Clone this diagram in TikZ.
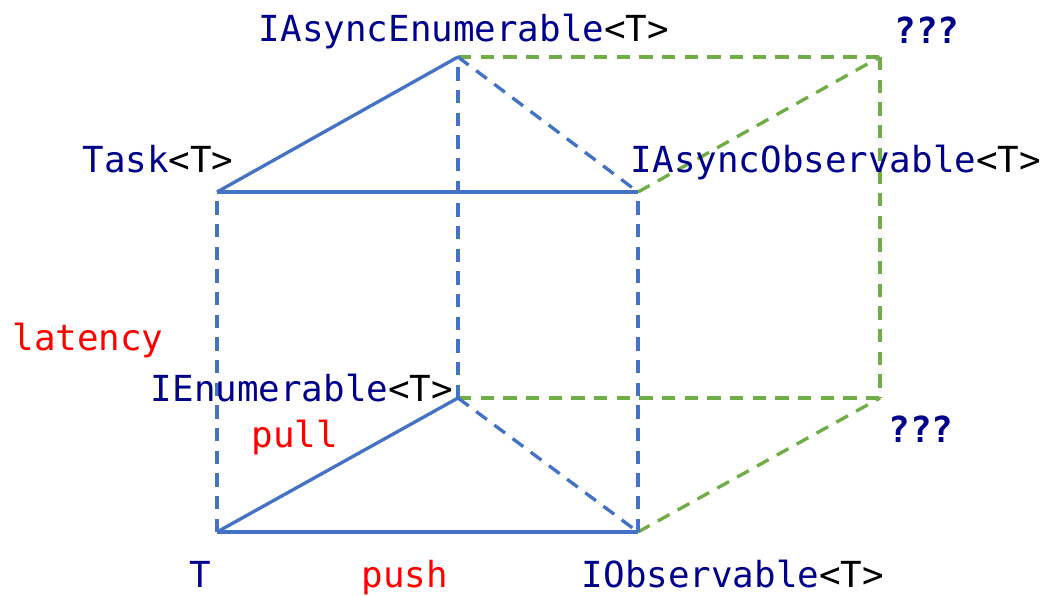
\documentclass[tikz,border=0pt]{standalone}
\usepackage{fontspec}
\setmonofont{DejaVu Sans Mono}
\usepackage{xcolor}
\usetikzlibrary{positioning}
\definecolor{edgeblue}{HTML}{4472C4}
\definecolor{edgegreen}{HTML}{70AD47}
\definecolor{typenavy}{HTML}{00008B}
\newcommand{\gentype}[1]{\textcolor{typenavy}{#1}\textcolor{black}{<T>}}

\begin{document}
\begin{tikzpicture}[x=0.75pt, y=0.75pt,
    lbl/.style={font=\fontsize{26.9}{30}\ttfamily, inner sep=0pt, anchor=base},
    axis/.style={lbl, text=red},
    unknown/.style={lbl, font=\fontsize{26.9}{30}\ttfamily\bfseries, text=typenavy},
    solidedge/.style={draw=edgeblue, line width=2.5pt},
    blueedge/.style={draw=edgeblue, line width=2.5pt, dash pattern=on 10pt off 7pt},
    greenedge/.style={draw=edgegreen, line width=2.5pt, dash pattern=on 10pt off 7pt}]
    \useasboundingbox (0,0) rectangle (1047,596);

    % corners of the cube
    \coordinate (t)    at (217,64);
    \coordinate (obs)  at (638,64);
    \coordinate (enm)  at (458,198);
    \coordinate (qb)   at (880,198);
    \coordinate (task) at (217,404);
    \coordinate (aobs) at (638,404);
    \coordinate (aenm) at (458,539);
    \coordinate (qt)   at (880,539);

    % green dashed edges (unknown corner)
    \draw[greenedge] (aenm) -- (qt);
    \draw[greenedge] (qt) -- (qb);
    \draw[greenedge] (aobs) -- (qt);
    \draw[greenedge] (enm) -- (qb);
    \draw[greenedge] (obs) -- (qb);

    % blue dashed edges
    \draw[blueedge] (t) -- (task);
    \draw[blueedge] (obs) -- (aobs);
    \draw[blueedge] (enm) -- (aenm);
    \draw[blueedge] (enm) -- (obs);
    \draw[blueedge] (aenm) -- (aobs);

    % blue solid edges
    \draw[solidedge] (t) -- (obs);
    \draw[solidedge] (t) -- (enm);
    \draw[solidedge] (task) -- (aobs);
    \draw[solidedge] (task) -- (aenm);

    % type names
    \node[lbl] (aenmlbl) at (464,554) {\gentype{IAsyncEnumerable}};
    \node[lbl] (tasklbl) at (158,423) {\gentype{Task}};
    \node[lbl] (aobslbl) at (836,423) {\gentype{IAsyncObservable}};
    \node[lbl] (enmlbl)  at (302,194) {\gentype{IEnumerable}};
    \node[lbl, text=typenavy] (tlbl) at (200,8) {T};
    \node[lbl] (obslbl)  at (733,8) {\gentype{IObservable}};

    % unknown corners
    \node[unknown] (qtlbl) at (927,552) {???};
    \node[unknown] (qblbl) at (921,153) {???};

    % axes
    \node[axis] (latency) at (88,245) {latency};
    \node[axis] (pull)    at (295,148) {pull};
    \node[axis] (push)    at (405,8) {push};
\end{tikzpicture}
\end{document}
